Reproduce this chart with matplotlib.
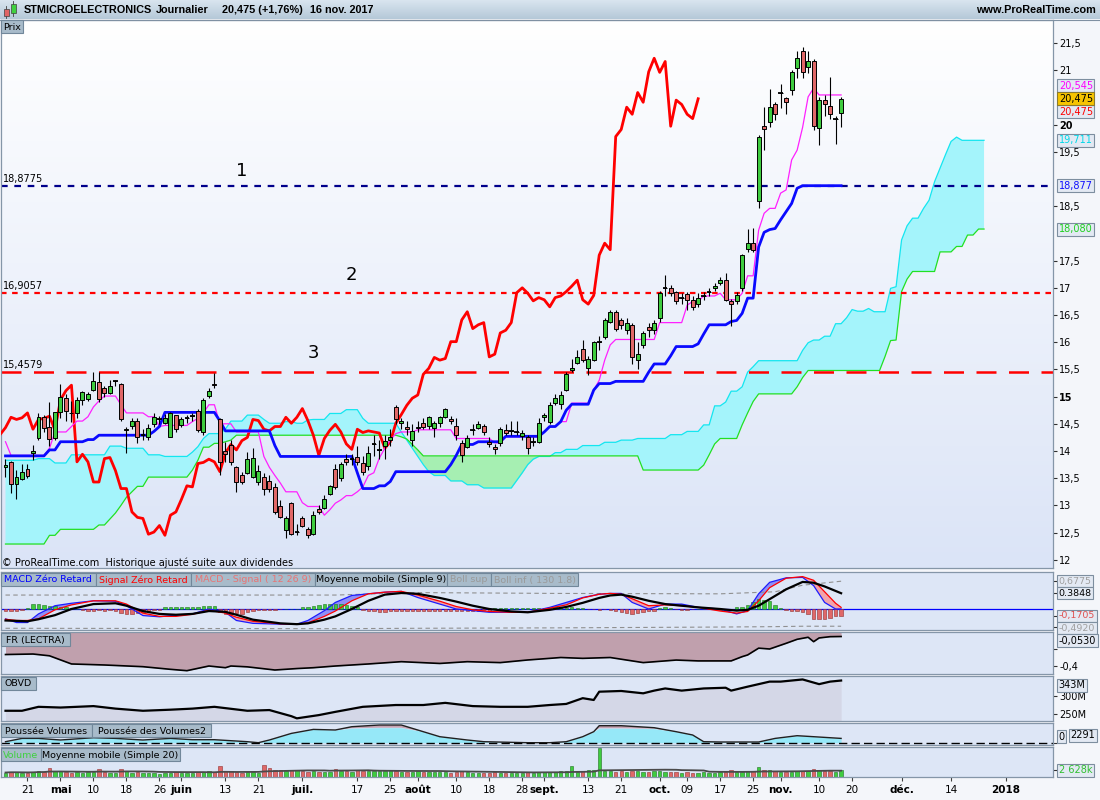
import numpy as np
import pandas as pd
import matplotlib
matplotlib.use("Agg")
import matplotlib.pyplot as plt
from matplotlib.patches import Rectangle
from matplotlib.colors import LinearSegmentedColormap

plt.rcParams['font.family'] = ['DejaVu Sans']

W, H = 1100, 800

# ------------------------------------------------------------------ data
holidays = ['2017-04-14', '2017-04-17', '2017-05-01', '2017-12-25', '2017-12-26', '2018-01-01']

opens = [
    13.71, 13.79, 13.39, 13.48, 13.66, 13.97, 14.23, 14.63, 14.45, 14.23,
    14.72, 14.98, 14.70, 14.70, 14.93, 14.95, 15.12, 15.27, 15.15, 15.06,
    15.29, 15.23, 14.38, 14.46, 14.56, 14.30, 14.26, 14.49, 14.58, 14.52,
    14.26, 14.66, 14.48, 14.60, 14.64, 14.73, 14.35, 15.01, 15.24, 14.58,
    14.00, 14.11, 13.70, 13.55, 13.60, 13.53, 13.43, 13.53, 13.45, 13.34,
    12.98, 12.55, 13.05, 12.51, 12.76, 12.56, 12.48, 12.94, 12.96, 13.21,
    13.66, 13.50, 13.86, 13.85, 13.89, 13.78, 13.72, 14.12, 14.02, 14.09,
    14.20, 14.80, 14.51, 14.45, 14.20, 14.42, 14.51, 14.46, 14.43, 14.52,
    14.63, 14.58, 14.46, 14.14, 14.08, 14.38, 14.43, 14.46, 14.17, 14.08,
    14.14, 14.38, 14.37, 14.35, 14.27, 14.26, 14.17, 14.17, 14.63, 14.54,
    14.89, 14.87, 15.12, 15.49, 15.62, 15.87, 15.52, 15.67, 16.01, 16.10,
    16.38, 16.55, 16.41, 16.22, 16.32, 15.67, 15.95, 16.28, 16.23, 16.45,
    17.00, 17.00, 16.93, 16.82, 16.88, 16.78, 16.70, 16.85, 16.93, 16.99,
    17.09, 17.15, 16.76, 16.76, 16.99, 17.72, 17.83, 18.59, 19.97, 20.04,
    20.37, 20.59, 20.48, 20.64, 21.04, 21.36, 21.05, 21.16, 19.93, 20.45,
    20.35, 20.11, 20.21]
highs = [
    13.85, 13.82, 13.65, 13.76, 13.77, 14.11, 14.69, 14.67, 14.90, 14.72,
    15.23, 15.05, 14.92, 15.00, 15.10, 15.08, 15.45, 15.45, 15.20, 15.30,
    15.31, 15.25, 14.45, 14.60, 14.60, 14.40, 14.50, 14.70, 14.65, 14.68,
    14.72, 14.67, 14.62, 14.66, 14.70, 14.78, 14.98, 15.15, 15.44, 14.60,
    14.17, 14.20, 13.72, 13.62, 13.98, 14.06, 13.75, 13.60, 13.55, 13.42,
    13.10, 12.80, 13.06, 12.65, 12.80, 12.60, 12.90, 13.00, 13.20, 13.38,
    13.76, 13.80, 13.95, 13.95, 14.10, 13.90, 14.10, 14.30, 14.20, 14.30,
    14.40, 14.85, 14.60, 14.55, 14.50, 14.55, 14.60, 14.65, 14.55, 14.65,
    14.79, 14.65, 14.60, 14.20, 14.30, 14.50, 14.55, 14.50, 14.25, 14.12,
    14.45, 14.50, 14.55, 14.55, 14.38, 14.30, 14.25, 14.60, 14.70, 14.90,
    15.05, 15.10, 15.45, 15.70, 15.86, 16.04, 15.75, 16.02, 16.12, 16.45,
    16.60, 16.60, 16.45, 16.45, 16.35, 16.00, 16.20, 16.35, 16.40, 16.95,
    17.23, 17.05, 16.95, 16.90, 16.92, 16.85, 16.90, 16.92, 17.00, 17.08,
    17.20, 17.27, 16.80, 16.92, 17.62, 18.08, 18.10, 19.80, 20.33, 20.66,
    20.42, 20.75, 20.50, 21.00, 21.36, 21.43, 21.35, 21.20, 20.50, 20.55,
    20.88, 20.15, 20.50]
lows = [
    13.52, 13.22, 13.11, 13.47, 13.50, 13.83, 14.20, 14.35, 14.10, 14.20,
    14.60, 14.55, 14.53, 14.60, 14.85, 14.92, 15.10, 14.90, 15.00, 15.05,
    15.20, 14.56, 13.96, 14.40, 14.15, 14.20, 14.20, 14.45, 14.50, 14.50,
    14.25, 14.35, 14.45, 14.52, 14.55, 14.35, 14.30, 14.98, 15.15, 13.56,
    13.80, 13.75, 13.25, 13.40, 13.57, 13.50, 13.38, 13.20, 13.25, 12.85,
    12.76, 12.40, 12.45, 12.45, 12.60, 12.40, 12.45, 12.85, 12.93, 13.20,
    13.30, 13.45, 13.75, 13.75, 13.75, 13.55, 13.65, 13.90, 13.85, 13.85,
    14.10, 14.50, 14.40, 14.30, 14.10, 14.35, 14.40, 14.40, 14.25, 14.45,
    14.60, 14.50, 14.20, 13.79, 14.05, 14.30, 14.40, 14.30, 14.08, 13.95,
    14.10, 14.30, 14.30, 14.30, 14.20, 13.95, 14.10, 14.15, 14.55, 14.50,
    14.85, 14.78, 15.10, 15.45, 15.60, 15.64, 15.40, 15.65, 15.85, 16.05,
    16.35, 16.20, 16.25, 16.15, 15.60, 15.50, 15.90, 16.10, 16.15, 16.38,
    16.85, 16.85, 16.70, 16.70, 16.60, 16.60, 16.65, 16.78, 16.85, 16.95,
    17.05, 16.75, 16.30, 16.70, 16.95, 17.65, 17.65, 18.46, 19.54, 19.95,
    20.08, 20.30, 20.20, 20.55, 20.85, 20.85, 20.95, 19.90, 19.63, 20.15,
    20.10, 19.64, 19.95]
closes = [
    13.75, 13.39, 13.53, 13.62, 13.54, 14.00, 14.63, 14.42, 14.22, 14.72,
    14.99, 14.73, 14.69, 14.94, 15.08, 15.05, 15.28, 14.95, 15.06, 15.20,
    15.29, 14.58, 14.41, 14.56, 14.26, 14.30, 14.43, 14.62, 14.58, 14.61,
    14.70, 14.40, 14.58, 14.60, 14.64, 14.38, 14.94, 15.11, 15.21, 13.80,
    13.94, 13.80, 13.43, 13.43, 13.86, 13.88, 13.64, 13.31, 13.31, 12.88,
    12.78, 12.76, 12.47, 12.51, 12.63, 12.45, 12.82, 12.88, 13.11, 13.36,
    13.34, 13.77, 13.79, 13.85, 13.80, 13.62, 13.96, 14.12, 14.02, 14.19,
    14.25, 14.58, 14.56, 14.40, 14.37, 14.45, 14.45, 14.62, 14.51, 14.62,
    14.78, 14.56, 14.29, 13.92, 14.23, 14.38, 14.49, 14.35, 14.13, 14.03,
    14.40, 14.34, 14.37, 14.35, 14.33, 14.05, 14.17, 14.51, 14.67, 14.84,
    14.97, 15.03, 15.41, 15.52, 15.72, 15.67, 15.70, 16.01, 16.01, 16.41,
    16.56, 16.25, 16.32, 16.36, 15.73, 15.78, 16.17, 16.22, 16.36, 16.91,
    17.00, 16.90, 16.76, 16.82, 16.78, 16.65, 16.82, 16.85, 16.93, 17.03,
    17.14, 16.78, 16.70, 16.86, 17.60, 17.82, 17.70, 19.78, 19.91, 20.32,
    20.19, 20.59, 20.41, 20.97, 21.22, 20.96, 21.16, 19.97, 20.45, 20.37,
    20.19, 20.11, 20.475]
volumes_m = [
    1.8, 2.0, 1.9, 1.7, 1.8, 2.0, 2.6, 2.2, 3.6, 2.4,
    2.3, 1.9, 1.6, 2.0, 1.8, 1.9, 2.2, 3.4, 2.1, 1.7,
    1.6, 3.4, 2.5, 1.8, 1.9, 1.6, 1.7, 1.5, 1.4, 1.8,
    1.6, 1.9, 1.7, 1.5, 1.8, 2.0, 2.2, 2.4, 2.0, 4.4,
    2.3, 2.6, 2.2, 1.8, 2.1, 1.9, 1.7, 4.7, 3.6, 2.8,
    3.0, 2.6, 3.0, 2.7, 2.3, 2.2, 2.4, 2.1, 2.0, 2.2,
    3.4, 2.6, 2.5, 2.2, 2.7, 2.4, 2.3, 2.5, 2.4, 2.6,
    3.0, 2.4, 2.2, 2.1, 2.0, 2.3, 2.2, 1.9, 2.0, 2.1,
    2.0, 1.8, 1.9, 2.4, 2.0, 1.7, 1.6, 1.8, 1.7, 1.9,
    1.8, 1.7, 1.5, 1.6, 1.7, 1.9, 1.8, 2.1, 1.9, 2.0,
    2.2, 2.5, 2.3, 4.5, 2.2, 2.6, 2.7, 2.7, 11.5, 2.4,
    2.3, 2.2, 2.3, 2.1, 2.6, 2.4, 2.0, 2.2, 2.3, 2.5,
    2.2, 2.0, 2.1, 1.8, 1.9, 1.7, 1.8, 1.9, 1.7, 1.6,
    1.9, 2.0, 2.8, 2.0, 2.2, 2.6, 2.5, 4.0, 3.0, 2.8,
    2.3, 2.1, 2.0, 2.2, 2.4, 2.3, 2.4, 3.3, 2.8, 2.4,
    2.5, 2.2, 2.628]

# Ichimoku lines: (first index, last index, value)
tenkan_seg = [
    (0, 0, 14.17), (1, 7, 13.92), (8, 8, 14.05), (9, 11, 14.35), (12, 12, 14.45), (13, 14, 14.55),
    (15, 15, 14.63), (16, 16, 14.81), (17, 17, 14.92), (18, 20, 15.01), (21, 21, 14.85), (22, 25, 14.70),
    (26, 27, 14.63), (28, 28, 14.45), (29, 33, 14.47), (34, 34, 14.54), (35, 35, 14.60), (36, 36, 14.70),
    (37, 38, 14.85), (39, 41, 14.50), (42, 46, 14.35), (47, 47, 13.90), (48, 48, 13.70), (49, 49, 13.55),
    (50, 50, 13.41), (51, 53, 13.25), (54, 54, 13.05), (55, 57, 12.98), (58, 58, 12.82), (59, 59, 12.92),
    (60, 60, 13.04), (61, 61, 13.10), (62, 63, 13.18), (64, 64, 13.25), (65, 65, 13.34), (66, 66, 13.55),
    (67, 67, 13.60), (68, 68, 13.87), (69, 69, 14.05), (70, 70, 14.20), (71, 71, 14.32), (72, 74, 14.35),
    (75, 81, 14.39), (82, 88, 14.23), (89, 90, 14.15), (91, 97, 14.26), (98, 98, 14.35), (99, 100, 14.45),
    (101, 102, 14.54), (103, 106, 14.88), (107, 107, 15.12), (108, 108, 15.30), (109, 109, 15.67),
    (110, 110, 15.95), (111, 118, 16.05), (119, 123, 16.36), (124, 124, 16.68), (125, 126, 16.75),
    (127, 129, 16.85), (130, 130, 16.90), (131, 133, 16.78), (134, 134, 16.90), (135, 136, 17.22),
    (137, 137, 18.06), (138, 138, 18.37), (139, 140, 18.46), (141, 141, 18.74), (142, 142, 18.80),
    (143, 143, 19.35), (144, 144, 19.53), (145, 145, 19.95), (146, 146, 20.51), (147, 147, 20.67),
    (148, 152, 20.545)]
kijun_seg = [
    (0, 7, 13.91), (8, 9, 14.02), (10, 14, 14.17), (15, 16, 14.21), (17, 26, 14.29), (27, 27, 14.36),
    (28, 28, 14.45), (29, 38, 14.71), (39, 39, 14.55), (40, 48, 14.37), (49, 49, 14.10), (50, 63, 13.90),
    (64, 64, 13.60), (65, 67, 13.31), (68, 69, 13.36), (70, 70, 13.44), (71, 80, 13.62), (81, 81, 13.75),
    (82, 82, 13.92), (83, 85, 14.12), (86, 90, 14.17), (91, 97, 14.27), (98, 98, 14.35), (99, 100, 14.45),
    (101, 101, 14.54), (102, 102, 14.75), (103, 106, 14.86), (107, 107, 15.12), (108, 110, 15.24),
    (111, 116, 15.28), (117, 117, 15.45), (118, 120, 15.60), (121, 121, 15.75), (122, 125, 15.92),
    (126, 126, 15.97), (127, 127, 16.15), (128, 131, 16.32), (132, 132, 16.38), (133, 133, 16.40),
    (134, 134, 16.53), (135, 136, 16.81), (137, 137, 17.75), (138, 138, 18.02), (139, 139, 18.07),
    (140, 140, 18.09), (141, 141, 18.25), (142, 142, 18.40), (143, 143, 18.55), (144, 144, 18.83),
    (145, 152, 18.877)]
senkou_a_seg = [
    (0, 5, 13.83), (6, 8, 13.86), (9, 11, 13.78), (12, 18, 13.93), (19, 21, 14.09), (22, 25, 14.05),
    (26, 28, 13.93), (29, 33, 13.90), (34, 34, 13.98), (35, 35, 14.08), (36, 36, 14.23), (37, 39, 14.32),
    (40, 40, 14.40), (41, 43, 14.55), (44, 46, 14.66), (47, 47, 14.58), (48, 50, 14.51), (51, 52, 14.54),
    (53, 54, 14.51), (55, 55, 14.57), (56, 58, 14.58), (59, 61, 14.69), (62, 64, 14.76), (65, 65, 14.60),
    (66, 71, 14.51), (72, 72, 14.35), (73, 73, 14.20), (74, 74, 14.05), (75, 75, 13.90), (76, 76, 13.75),
    (77, 77, 13.62), (78, 80, 13.55), (81, 83, 13.45), (84, 86, 13.38), (87, 92, 13.32), (93, 93, 13.46),
    (94, 94, 13.60), (95, 95, 13.75), (96, 96, 13.85), (97, 99, 13.90), (100, 101, 13.97), (102, 104, 14.03),
    (105, 108, 14.10), (109, 111, 14.16), (112, 114, 14.20), (115, 120, 14.23), (121, 123, 14.30),
    (124, 126, 14.36), (127, 128, 14.48), (129, 130, 14.83), (131, 131, 14.90), (132, 133, 15.10),
    (134, 134, 15.18), (135, 135, 15.45), (136, 136, 15.55), (137, 144, 15.66), (145, 145, 15.85),
    (146, 146, 15.99), (147, 148, 16.04), (149, 150, 16.11), (151, 152, 16.34), (153, 153, 16.45),
    (154, 154, 16.60), (155, 156, 16.57), (157, 157, 16.62), (158, 160, 16.56), (161, 161, 16.99),
    (162, 162, 17.02), (163, 163, 17.88), (164, 164, 18.14), (165, 166, 18.28), (167, 167, 18.46),
    (168, 168, 18.61), (169, 169, 18.95), (170, 170, 19.20), (171, 171, 19.45), (172, 172, 19.69),
    (173, 173, 19.77), (174, 178, 19.711)]
senkou_b_seg = [
    (0, 7, 12.29), (8, 9, 12.45), (10, 16, 12.56), (17, 18, 12.64), (19, 19, 12.75), (20, 20, 12.86),
    (21, 21, 13.00), (22, 22, 13.15), (23, 23, 13.25), (24, 25, 13.35), (26, 33, 13.52), (34, 34, 13.65),
    (35, 35, 13.83), (36, 37, 14.07), (38, 39, 14.14), (40, 40, 14.17), (41, 41, 14.20), (42, 71, 14.29),
    (72, 72, 14.26), (73, 73, 14.22), (74, 74, 14.12), (75, 75, 14.02), (76, 115, 13.91), (116, 126, 13.65),
    (127, 127, 13.74), (128, 128, 13.93), (129, 129, 14.13), (130, 133, 14.23), (134, 134, 14.48),
    (135, 135, 14.70), (136, 136, 14.91), (137, 143, 15.05), (144, 144, 15.18), (145, 145, 15.35),
    (146, 159, 15.48), (160, 160, 15.74), (161, 161, 16.03), (162, 162, 16.04), (163, 163, 16.93),
    (164, 164, 17.16), (165, 169, 17.30), (170, 172, 17.66), (173, 174, 17.76), (175, 176, 17.97),
    (177, 178, 18.08)]

levels = [18.8775, 16.9057, 15.4579]
level_names = ['1', '2', '3']
level_label_pos = [(43, 19.15), (63, 17.23), (56, 15.80)]

# MACD panel (read at these bar indices)
macd_idx = [0, 2, 4, 6, 9, 12, 16, 20, 22, 25, 28, 31, 34, 37, 40, 42, 45, 50, 53, 55, 58, 60, 63, 66, 69,
            72, 75, 79, 82, 85, 88, 92, 95, 99, 102, 105, 108, 110, 112, 114, 117, 120, 123, 126, 130, 133,
            135, 137, 139, 142, 145, 147, 149, 151, 152]
macd_zl = [-0.24, -0.33, -0.33, -0.12, 0.08, 0.14, 0.20, 0.19, 0.08, -0.16, -0.19, -0.15, -0.12, 0.00,
           -0.08, -0.28, -0.35, -0.37, -0.37, -0.28, -0.04, 0.16, 0.33, 0.37, 0.41, 0.43, 0.28, 0.12, 0.00,
           -0.04, -0.08, -0.08, -0.08, 0.04, 0.16, 0.28, 0.36, 0.38, 0.38, 0.16, 0.00, 0.12, 0.12, 0.04,
           0.00, -0.12, -0.04, 0.37, 0.65, 0.76, 0.77, 0.57, 0.16, 0.00, 0.00]
signal_zl = [-0.25, -0.28, -0.28, -0.24, -0.02, 0.10, 0.20, 0.20, 0.12, -0.10, -0.18, -0.18, -0.13, -0.03,
             -0.10, -0.20, -0.30, -0.36, -0.37, -0.34, -0.18, -0.05, 0.20, 0.37, 0.41, 0.43, 0.34, 0.19,
             0.06, -0.02, -0.06, -0.08, -0.08, 0.02, 0.10, 0.27, 0.36, 0.38, 0.36, 0.25, 0.08, 0.10, 0.08,
             0.04, -0.05, -0.10, -0.06, 0.20, 0.52, 0.75, 0.79, 0.70, 0.42, 0.14, 0.04]
macd_ma9 = [-0.28, -0.29, -0.30, -0.25, -0.15, 0.00, 0.12, 0.14, 0.08, -0.05, -0.12, -0.14, -0.12, -0.05,
            -0.07, -0.14, -0.26, -0.35, -0.37, -0.35, -0.26, -0.18, 0.00, 0.20, 0.35, 0.39, 0.37, 0.27,
            0.18, 0.08, 0.00, -0.06, -0.08, -0.02, 0.05, 0.15, 0.27, 0.33, 0.35, 0.30, 0.20, 0.12, 0.08,
            0.04, 0.00, -0.04, -0.02, 0.08, 0.24, 0.48, 0.66, 0.64, 0.55, 0.44, 0.3848]
boll_idx = [0, 60, 75, 100, 130, 140, 145, 152]
boll_sup = [0.34, 0.34, 0.40, 0.38, 0.37, 0.42, 0.58, 0.6775]
boll_inf = [-0.47, -0.48, -0.47, -0.46, -0.44, -0.43, -0.42, -0.42]
macd_hist = [
    -0.05, -0.05, -0.05, -0.02, 0.02, 0.12, 0.12, 0.10, 0.08, 0.08,
    0.06, 0.06, 0.02, 0.01, -0.03, -0.04, -0.04, -0.03, -0.04, -0.03,
    -0.04, -0.10, -0.12, -0.12, -0.10, -0.08, -0.04, -0.03, -0.02, 0.04,
    0.05, 0.04, 0.05, 0.06, 0.05, 0.06, 0.08, 0.08, 0.07, -0.08,
    -0.12, -0.12, -0.10, -0.11, -0.08, -0.04, -0.03, -0.03, -0.02, -0.02,
    -0.01, 0.00, 0.01, 0.01, 0.05, 0.06, 0.08, 0.10, 0.12, 0.11,
    0.12, 0.12, 0.10, 0.08, 0.05, -0.03, -0.05, -0.06, -0.08, -0.07,
    -0.06, -0.05, -0.06, -0.04, -0.05, -0.04, -0.04, -0.05, -0.04, -0.05,
    -0.04, -0.05, -0.04, -0.05, -0.06, -0.04, -0.05, -0.03, -0.04, 0.02,
    0.03, 0.03, 0.02, 0.03, 0.03, 0.02, 0.03, 0.02, 0.03, 0.03,
    0.04, 0.04, 0.03, 0.04, 0.03, 0.02, -0.01, -0.01, -0.02, -0.01,
    -0.03, -0.05, -0.08, -0.10, -0.12, -0.10, -0.08, -0.06, -0.04, 0.03,
    0.04, 0.03, -0.01, -0.02, -0.02, -0.01, 0.00, 0.00, -0.01, -0.01,
    -0.02, -0.04, -0.03, 0.05, 0.06, 0.10, 0.18, 0.24, 0.22, 0.20,
    0.10, 0.03, -0.02, -0.04, -0.06, -0.08, -0.12, -0.24, -0.24, -0.24,
    -0.23, -0.18, -0.1705]

# FR (LECTRA)
fr_idx = [0, 5, 8, 12, 18, 25, 30, 33, 37, 40, 41, 44, 49, 53, 56, 60, 66, 72, 79, 84, 90, 95, 99, 101,
          105, 110, 116, 122, 126, 132, 134, 135, 137, 139, 142, 144, 146, 147, 148, 150, 152]
fr_val = [-0.265, -0.259, -0.28, -0.376, -0.388, -0.408, -0.439, -0.455, -0.40, -0.42, -0.40, -0.41,
          -0.447, -0.43, -0.42, -0.40, -0.376, -0.349, -0.37, -0.349, -0.36, -0.329, -0.31, -0.30, -0.31,
          -0.30, -0.36, -0.33, -0.34, -0.34, -0.29, -0.27, -0.19, -0.20, -0.133, -0.086, -0.062, -0.114,
          -0.07, -0.055, -0.053]

# OBVD (millions)
obvd_idx = [0, 3, 6, 10, 16, 20, 25, 30, 34, 38, 44, 48, 52, 53, 57, 60, 65, 71, 76, 80, 85, 90, 95, 99,
            102, 105, 107, 108, 112, 116, 118, 120, 123, 127, 131, 132, 135, 137, 139, 141, 145, 148, 150, 152]
obvd_val = [259, 259, 270, 268, 272, 265, 259, 262, 265, 270, 259, 261, 244, 238, 247, 256, 270, 275, 275,
            281, 272, 270, 270, 275, 278, 294, 289, 312, 314, 307.5, 315, 321, 315, 321, 323, 315, 326, 333,
            340, 340, 346, 333, 340, 343]

# Poussee des volumes
pv_idx = [0, 3, 6, 10, 16, 20, 25, 30, 34, 38, 44, 46, 48, 52, 56, 60, 63, 68, 72, 76, 79, 84, 87, 95, 99,
          102, 105, 107, 108, 112, 118, 122, 125, 127, 130, 137, 140, 144, 147, 152]
pv_1 = [1, 4.3, 4.3, 2.7, 5, 4.3, 2.7, 4.3, 3, 3, 1, 0, 2.7, 9.3, 13.3, 12.7, 16, 17.7, 17.7, 11, 6, 2.7,
        1, 0, 0, 1, 6, 11, 17, 17, 15, 11, 7.7, 1, 0.7, 0.7, 4.3, 7, 6, 4.3]
pv_2 = [1, 4.3, 4.3, 2.7, 5, 4.3, 2.7, 4.3, 3, 3, 1, 0, 2.7, 9.3, 13.3, 12.7, 14.5, 15, 15, 11, 6, 2.7,
        1, 0, 0, 1, 6, 11, 14.5, 14.5, 14, 11, 7.7, 1, 0.7, 0.7, 4.3, 7, 6, 4.3]

tick_dates = ['2017-04-21', '2017-05-02', '2017-05-10', '2017-05-18', '2017-05-26', '2017-06-01',
              '2017-06-13', '2017-06-21', '2017-07-03', '2017-07-17', '2017-07-25', '2017-08-01',
              '2017-08-10', '2017-08-18', '2017-08-28', '2017-09-01', '2017-09-13', '2017-09-21',
              '2017-10-02', '2017-10-09', '2017-10-17', '2017-10-25', '2017-11-01', '2017-11-10',
              '2017-11-20', '2017-12-01', '2017-12-14', '2018-01-02']
tick_texts = ['21', 'mai', '10', '18', '26', 'juin', '13', '21', 'juil.', '17', '25', 'août', '10', '18',
              '28', 'sept.', '13', '21', 'oct.', '09', '17', '25', 'nov.', '10', '20', 'déc.', '14', '2018']
bold_ticks = {'mai', 'juin', 'juil.', 'août', 'sept.', 'oct.', 'nov.', 'déc.', '2018'}

price_ticks = [12, 12.5, 13, 13.5, 14, 14.5, 15, 15.5, 16, 16.5, 17, 17.5, 18.5, 19.5, 20, 21, 21.5]

# ------------------------------------------------------------------ helpers
def expand(segs, n):
    arr = np.full(n, np.nan)
    for s, e, v in segs:
        arr[s:e + 1] = v
    return arr

days = pd.bdate_range('2017-04-13', '2018-01-31')
days = days[~days.isin(pd.to_datetime(holidays))]
tick_pos = [days.get_loc(pd.Timestamp(d)) for d in tick_dates]

O = np.array(opens); Hh = np.array(highs); L = np.array(lows); C = np.array(closes)
n = len(C)
idx = np.arange(n)
tenkan = expand(tenkan_seg, n)
kijun = expand(kijun_seg, n)
span_x = np.arange(n + 26)
span_a = expand(senkou_a_seg, n + 26)
span_b = expand(senkou_b_seg, n + 26)

fig = plt.figure(figsize=(W / 100, H / 100), dpi=100, facecolor='#f4f6fa')

def px_axes(x0, y0, x1, y1, **kw):
    return fig.add_axes([x0 / W, 1 - y1 / H, (x1 - x0) / W, (y1 - y0) / H], **kw)

X0 = (0 - 5) / 5.5
X1 = (1053 - 5) / 5.5
SUB_BG = '#dde6f6'
EDGE = '#8596a8'
GREEN = '#3fcc3f'
RED = '#e06868'

def style(ax, bg=SUB_BG):
    ax.set_facecolor(bg)
    for s in ax.spines.values():
        s.set_color(EDGE)
        s.set_linewidth(0.9)
    ax.set_xlim(X0, X1)
    ax.tick_params(axis='x', bottom=False, labelbottom=False)
    ax.yaxis.tick_right()
    ax.tick_params(axis='y', direction='out', length=3, width=0.8, pad=1.5, labelsize=7,
                   color='#303030', labelcolor='black')

def value_box(ax, y, text, color, fc='#e3e9f3', ec='#7d8e9f', x=1.0055, fs=7):
    ax.text(x, y, text, transform=ax.get_yaxis_transform(), ha='left', va='center',
            fontsize=fs, color=color, zorder=20, clip_on=False,
            bbox=dict(boxstyle='square,pad=0.15', fc=fc, ec=ec, lw=0.8))

# ------------------------------------------------------------------ price panel
ax = px_axes(0.5, 20, 1053, 568)
style(ax, bg='white')
grad = np.linspace(0, 1, 256).reshape(-1, 1)
ax.imshow(grad, cmap=LinearSegmentedColormap.from_list('bg', ['#ffffff', '#dbe4f7']),
          extent=[0, 1, 0, 1], transform=ax.transAxes, aspect='auto', zorder=0, origin='upper')

ax.fill_between(span_x, span_a, span_b, where=span_a >= span_b, color='#a4f4fb', interpolate=True,
                lw=0, zorder=1)
ax.fill_between(span_x, span_a, span_b, where=span_b > span_a, color='#a6efb2', interpolate=True,
                lw=0, zorder=1)
ax.plot(span_x, span_a, color='#14e6f0', lw=0.9, zorder=1.5)
ax.plot(span_x, span_b, color='#22e022', lw=0.9, zorder=1.5)

ax.axhline(levels[0], color='#00008b', lw=1.6, dashes=(3, 3), zorder=2)
ax.axhline(levels[1], color='#ff0000', lw=1.6, dashes=(2.5, 2.5), zorder=2)
ax.axhline(levels[2], color='#ff0000', lw=1.8, dashes=(8, 5), zorder=2)
for lv in levels:
    ax.text(0.002, lv + 0.03, f'{lv:.4f}'.replace('.', ','), transform=ax.get_yaxis_transform(),
            fontsize=7, va='bottom', ha='left', zorder=6)
for name, (xi, yv) in zip(level_names, level_label_pos):
    ax.text(xi, yv, name, fontsize=13, ha='center', va='center', zorder=6)

ax.plot(idx - 26, C, color='#ff0000', lw=2.0, zorder=3, solid_joinstyle='round')
ax.plot(idx, tenkan, color='#ff20ff', lw=0.9, zorder=3.2)
ax.plot(idx, kijun, color='#0a0aff', lw=2.0, zorder=3.4)

ax.vlines(idx, L, Hh, color='black', lw=0.8, zorder=4)
body_col = [GREEN if c > o else (RED if c < o else 'black') for o, c in zip(O, C)]
ax.bar(idx, np.abs(C - O), bottom=np.minimum(O, C), width=0.72, color=body_col,
       edgecolor='black', linewidth=0.7, zorder=5)
dj = C == O
ax.hlines(C[dj], idx[dj] - 0.42, idx[dj] + 0.42, color='black', lw=1.3, zorder=5)

ax.set_yticks(price_ticks)
ax.set_yticklabels([(f'{v:g}').replace('.', ',') for v in price_ticks])
for lab in ax.get_yticklabels():
    if lab.get_text() in ('15', '20'):
        lab.set_fontweight('bold')
ax.set_xlim(X0, X1)
ax.set_ylim(21.5 - 525 / 54.4, 21.5 + 23 / 54.4)

value_box(ax, 20.715, '20,545', '#ff00ff')
value_box(ax, 20.235, '20,475', '#ff0000')
value_box(ax, C[-1], '20,475', 'black', fc='#f6c400', ec='#8a7a30')
value_box(ax, span_a[-1], '19,711', '#00d8e8')
value_box(ax, kijun[-1], '18,877', '#1010ff')
value_box(ax, span_b[-1], '18,080', '#20d020')

# ------------------------------------------------------------------ MACD
am = px_axes(0.5, 572, 1053, 630)
style(am)
am.axhline(0, color='#0000ff', lw=0.9, zorder=2)
mi = np.array(macd_idx, float); mz = np.array(macd_zl); ms = np.array(signal_zl)
am.fill_between(mi, mz, ms, where=mz >= ms, color='#8f8ff4', interpolate=True, lw=0, zorder=1)
am.fill_between(mi, mz, ms, where=ms > mz, color='#f2a3aa', interpolate=True, lw=0, zorder=1)
am.plot(boll_idx, boll_sup, color='#909090', lw=0.8, dashes=(4, 3), zorder=1.5)
am.plot(boll_idx, boll_inf, color='#909090', lw=0.8, dashes=(4, 3), zorder=1.5)
mh = np.array(macd_hist)
am.bar(idx, mh, width=0.62, color=[GREEN if v >= 0 else RED for v in mh],
       edgecolor=['#207020' if v >= 0 else '#903030' for v in mh], linewidth=0.4, zorder=3)
am.plot(mi, mz, color='#1c1cff', lw=0.9, zorder=4)
am.plot(mi, ms, color='#ff0000', lw=0.9, zorder=4)
am.plot(mi, macd_ma9, color='black', lw=1.6, zorder=5)
am.set_ylim(-0.512, 0.902)
am.set_yticks([0.6775, 0.3848, -0.1705, -0.45])
am.set_yticklabels([])
value_box(am, 0.6775, '0,6775', '#a0a0a0', fs=6.8)
value_box(am, 0.3848, '0.3848', 'black', fs=6.8)
value_box(am, -0.1705, '-0,1705', '#e05050', fs=6.8)
value_box(am, -0.47, '-0,4920', '#a0a0a0', fs=6.8)

# ------------------------------------------------------------------ FR
af = px_axes(0.5, 632, 1053, 674)
style(af)
fi = np.array(fr_idx, float); fv = np.array(fr_val)
af.fill_between(fi, fv, 0, color='#c0a0ad', lw=0, zorder=1)
af.plot(fi, fv, color='black', lw=1.2, zorder=2)
af.set_ylim(-0.494, 0.0)
af.set_yticks([-0.2, -0.4])
af.set_yticklabels(['', '-0,4'])
value_box(af, -0.105, '-0,0530', 'black')

# ------------------------------------------------------------------ OBVD
ao = px_axes(0.5, 676, 1053, 721)
style(ao)
ao.fill_between(obvd_idx, obvd_val, 0, color='#d4d7e7', lw=0, zorder=1)
ao.plot(obvd_idx, obvd_val, color='black', lw=1.6, zorder=2)
ao.set_ylim(230.6, 355.6)
ao.set_yticks([300, 250])
ao.set_yticklabels(['300M', '250M'])
value_box(ao, 330, '343M', 'black')

# ------------------------------------------------------------------ Poussee volumes
ap = px_axes(0.5, 723, 1053, 745)
style(ap)
p1 = np.array(pv_1, float); p2 = np.array(pv_2, float)
ap.fill_between(pv_idx, p2, 0, color='#96e8f8', lw=0, zorder=1)
ap.fill_between(pv_idx, p1, p2, where=p1 > p2, color='#c6a3b3', lw=0, zorder=1, interpolate=True)
ap.plot(pv_idx, p1, color='#202020', lw=1.0, zorder=2)
ap.axhline(0, color='black', lw=1.0, dashes=(6, 3), zorder=2)
ap.set_ylim(-2.3, 19.7)
ap.set_yticks([0])
ap.set_yticklabels([])
value_box(ap, 6.0, '0', 'black')
value_box(ap, 7.2, '2291', 'black', x=1.0165)

# ------------------------------------------------------------------ Volume
av = px_axes(0.5, 747, 1053, 777)
style(av)
vol = np.array(volumes_m)
vcol = [GREEN if c >= o else RED for o, c in zip(O, C)]
vedge = ['#207020' if c >= o else '#903030' for o, c in zip(O, C)]
av.bar(idx, vol, width=0.62, color=vcol, edgecolor=vedge, linewidth=0.4, zorder=2)
av.plot(idx, pd.Series(vol).rolling(20, min_periods=1).mean(), color='#4a4a4a', lw=1.3, zorder=3)
av.set_ylim(0, 12)
av.set_yticks([2.628])
av.set_yticklabels([])
value_box(av, 2.628, '2 628k', '#30c030')
av.set_xticks(tick_pos)
av.set_xticklabels(tick_texts)
av.tick_params(axis='x', bottom=True, labelbottom=True, direction='out', length=3, width=0.8,
               pad=3, labelsize=7.5, color='#404040')
for lab in av.get_xticklabels():
    if lab.get_text() in bold_ticks:
        lab.set_fontweight('bold')
av.set_xlim(X0, X1)

# ------------------------------------------------------------------ overlay (header, legend boxes)
ov = fig.add_axes([0, 0, 1, 1], zorder=30)
ov.set_facecolor('none')
ov.axis('off')
hdr = np.linspace(0, 1, 64).reshape(-1, 1)
ov.imshow(hdr, cmap=LinearSegmentedColormap.from_list('hd', ['#d9e5ef', '#b5c8d8']),
          extent=[0, W, 19, 0], aspect='auto', zorder=1)
ov.plot([0, W], [19.5, 19.5], color='#7f90a2', lw=0.8, zorder=2)
ov.add_patch(Rectangle((3.5, 9), 5, 7, fc='#e06464', ec='#404040', lw=0.5, zorder=3))
ov.plot([6, 6], [6, 18], color='#404040', lw=0.6, zorder=2.5)
ov.add_patch(Rectangle((10.5, 4), 5, 9, fc='#40d040', ec='#404040', lw=0.5, zorder=3))
ov.plot([13, 13], [1, 16], color='#404040', lw=0.6, zorder=2.5)
HFONT = ['Liberation Sans', 'DejaVu Sans']
for xh, t in [(24, 'STMICROELECTRONICS'), (156, 'Journalier'), (222, '20,475 (+1,76%)'),
              (310, '16 nov. 2017')]:
    ov.text(xh, 10, t, fontsize=7.8, fontweight='bold', va='center', ha='left', zorder=4, family=HFONT)
ov.text(1096, 10, 'www.ProRealTime.com', fontsize=7.8, fontweight='bold', va='center', ha='right',
        zorder=4, family=HFONT)

def label_box(x0, x1, y0, y1, text, color):
    ov.add_patch(Rectangle((x0, y0), x1 - x0, y1 - y0, fc='#a8bbca', ec='#71879a', lw=0.8, zorder=5))
    ov.text((x0 + x1) / 2, (y0 + y1) / 2 + 0.5, text, fontsize=6.8, color=color, ha='center',
            va='center', zorder=6)

label_box(0.5, 23, 20, 33, 'Prix', 'black')
for x0, x1, t, c in [(0.5, 96, 'MACD Zéro Retard', '#0000ff'), (96, 191, 'Signal Zéro Retard', '#ff0000'),
                     (191, 315, 'MACD - Signal ( 12 26 9)', '#e87474'),
                     (315, 447, 'Moyenne mobile (Simple 9)', 'black'), (447, 491, 'Boll sup', '#9a9a9a'),
                     (491, 578, 'Boll inf ( 130 1.8)', '#9a9a9a')]:
    label_box(x0, x1, 573, 586, t, c)
label_box(0.5, 70, 633, 646, 'FR (LECTRA)', 'black')
label_box(0.5, 36, 677, 690, 'OBVD', 'black')
label_box(0.5, 92, 724, 737, 'Poussée Volumes', 'black')
label_box(92, 211, 724, 737, 'Poussée des Volumes2', 'black')
label_box(0.5, 41, 748, 761, 'Volume', '#40d040')
label_box(41, 180, 748, 761, 'Moyenne mobile (Simple 20)', 'black')
ov.text(2, 562.5, '© ProRealTime.com  Historique ajusté suite aux dividendes', fontsize=7,
        va='center', ha='left', zorder=6)
ov.set_xlim(0, W)
ov.set_ylim(H, 0)

fig.savefig('out.png', dpi=100, facecolor=fig.get_facecolor())
